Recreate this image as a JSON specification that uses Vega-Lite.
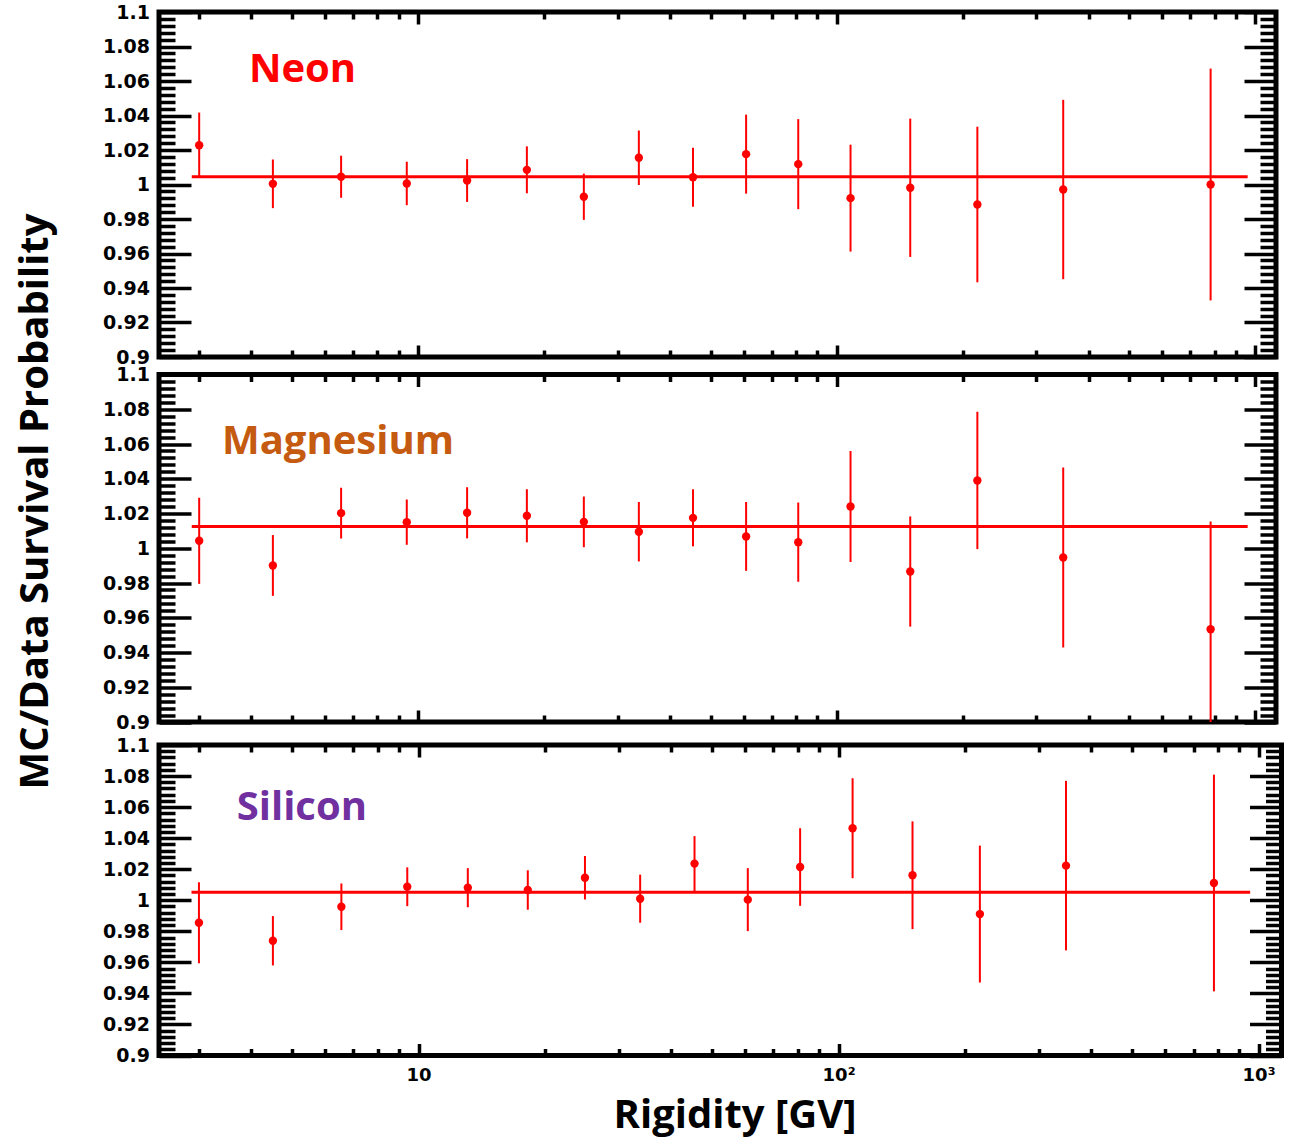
{
  "$schema": "https://vega.github.io/schema/vega-lite/v6.json",
  "background": "white",
  "padding": {"left": 12, "top": 0, "right": 10, "bottom": 0},
  "datasets": {
    "pts": [
      {"el": "Neon", "x": 3.0, "y": 1.0228, "lo": 1.0039, "hi": 1.0417},
      {"el": "Neon", "x": 4.5, "y": 1.0004, "lo": 0.9863, "hi": 1.0145},
      {"el": "Neon", "x": 6.55, "y": 1.0045, "lo": 0.9923, "hi": 1.0167},
      {"el": "Neon", "x": 9.4, "y": 1.0006, "lo": 0.988, "hi": 1.0132},
      {"el": "Neon", "x": 13.1, "y": 1.0023, "lo": 0.9899, "hi": 1.0147},
      {"el": "Neon", "x": 18.2, "y": 1.0085, "lo": 0.9949, "hi": 1.0221},
      {"el": "Neon", "x": 24.9, "y": 0.9929, "lo": 0.9795, "hi": 1.0063},
      {"el": "Neon", "x": 33.7, "y": 1.0155, "lo": 0.9997, "hi": 1.0313},
      {"el": "Neon", "x": 45.4, "y": 1.0042, "lo": 0.9871, "hi": 1.0213},
      {"el": "Neon", "x": 60.8, "y": 1.0176, "lo": 0.9947, "hi": 1.0405},
      {"el": "Neon", "x": 81, "y": 1.0118, "lo": 0.9857, "hi": 1.0379},
      {"el": "Neon", "x": 108, "y": 0.9921, "lo": 0.9611, "hi": 1.0231},
      {"el": "Neon", "x": 150, "y": 0.9981, "lo": 0.958, "hi": 1.0382},
      {"el": "Neon", "x": 217, "y": 0.9884, "lo": 0.9433, "hi": 1.0335},
      {"el": "Neon", "x": 348, "y": 0.9971, "lo": 0.9451, "hi": 1.0491},
      {"el": "Neon", "x": 783, "y": 1.0, "lo": 0.9328, "hi": 1.0672},
      {"el": "Magnesium", "x": 3.0, "y": 1.0043, "lo": 0.9795, "hi": 1.0291},
      {"el": "Magnesium", "x": 4.5, "y": 0.9901, "lo": 0.9726, "hi": 1.0076},
      {"el": "Magnesium", "x": 6.55, "y": 1.0202, "lo": 1.0056, "hi": 1.0348},
      {"el": "Magnesium", "x": 9.4, "y": 1.015, "lo": 1.002, "hi": 1.028},
      {"el": "Magnesium", "x": 13.1, "y": 1.0204, "lo": 1.0057, "hi": 1.0351},
      {"el": "Magnesium", "x": 18.2, "y": 1.0187, "lo": 1.0034, "hi": 1.034},
      {"el": "Magnesium", "x": 24.9, "y": 1.0152, "lo": 1.0006, "hi": 1.0298},
      {"el": "Magnesium", "x": 33.7, "y": 1.0095, "lo": 0.9924, "hi": 1.0266},
      {"el": "Magnesium", "x": 45.4, "y": 1.0175, "lo": 1.0011, "hi": 1.0339},
      {"el": "Magnesium", "x": 60.8, "y": 1.0068, "lo": 0.987, "hi": 1.0266},
      {"el": "Magnesium", "x": 81, "y": 1.0035, "lo": 0.9807, "hi": 1.0263},
      {"el": "Magnesium", "x": 108, "y": 1.024, "lo": 0.9921, "hi": 1.0559},
      {"el": "Magnesium", "x": 150, "y": 0.9866, "lo": 0.9549, "hi": 1.0183},
      {"el": "Magnesium", "x": 217, "y": 1.039, "lo": 0.9995, "hi": 1.0785},
      {"el": "Magnesium", "x": 348, "y": 0.9947, "lo": 0.9429, "hi": 1.0465},
      {"el": "Magnesium", "x": 783, "y": 0.9534, "lo": 0.8914, "hi": 1.0154},
      {"el": "Silicon", "x": 3.0, "y": 0.9855, "lo": 0.9594, "hi": 1.0116},
      {"el": "Silicon", "x": 4.5, "y": 0.9739, "lo": 0.958, "hi": 0.9898},
      {"el": "Silicon", "x": 6.55, "y": 0.9958, "lo": 0.9808, "hi": 1.0108},
      {"el": "Silicon", "x": 9.4, "y": 1.0087, "lo": 0.9962, "hi": 1.0212},
      {"el": "Silicon", "x": 13.1, "y": 1.0081, "lo": 0.9955, "hi": 1.0207},
      {"el": "Silicon", "x": 18.2, "y": 1.0066, "lo": 0.9939, "hi": 1.0193},
      {"el": "Silicon", "x": 24.9, "y": 1.0145, "lo": 1.0005, "hi": 1.0285},
      {"el": "Silicon", "x": 33.7, "y": 1.001, "lo": 0.9855, "hi": 1.0165},
      {"el": "Silicon", "x": 45.4, "y": 1.0236, "lo": 1.0059, "hi": 1.0413},
      {"el": "Silicon", "x": 60.8, "y": 1.0004, "lo": 0.9801, "hi": 1.0207},
      {"el": "Silicon", "x": 81, "y": 1.0214, "lo": 0.9964, "hi": 1.0464},
      {"el": "Silicon", "x": 108, "y": 1.0464, "lo": 1.0142, "hi": 1.0786},
      {"el": "Silicon", "x": 150, "y": 1.0161, "lo": 0.9814, "hi": 1.0508},
      {"el": "Silicon", "x": 217, "y": 0.9911, "lo": 0.947, "hi": 1.0352},
      {"el": "Silicon", "x": 348, "y": 1.0223, "lo": 0.9677, "hi": 1.0769},
      {"el": "Silicon", "x": 783, "y": 1.0111, "lo": 0.9413, "hi": 1.0809}
    ],
    "fit": [
      {"el": "Neon", "x": 2.88, "y": 1.0045},
      {"el": "Neon", "x": 960, "y": 1.0045},
      {"el": "Magnesium", "x": 2.88, "y": 1.0125},
      {"el": "Magnesium", "x": 960, "y": 1.0125},
      {"el": "Silicon", "x": 2.88, "y": 1.0051},
      {"el": "Silicon", "x": 955, "y": 1.0051}
    ],
    "names": [
      {"el": "Neon", "x": 3.945, "y": 1.0597, "name": "Neon"},
      {"el": "Magnesium", "x": 3.4, "y": 1.0545, "name": "Magnesium"},
      {"el": "Silicon", "x": 3.69, "y": 1.0517, "name": "Silicon"}
    ]
  },
  "config": {
    "view": {"stroke": "black", "strokeWidth": 5},
    "axis": {
      "domain": false,
      "grid": false,
      "tickColor": "black",
      "tickWidth": 3.5,
      "labelColor": "black",
      "labelFont": "DejaVu Sans",
      "labelFontWeight": "bold",
      "labelOverlap": false,
      "labelBound": false,
      "labelFlush": false,
      "titleColor": "black",
      "titleFont": "Open Sans",
      "titleFontWeight": "bold",
      "titleFontSize": 40
    }
  },
  "spacing": 17.5,
  "bounds": "flush",
  "resolve": {"scale": {"x": "independent", "y": "independent"}},
  "vconcat": [
    {
      "width": 1117,
      "height": 345,
      "resolve": {"axis": {"x": "independent", "y": "independent"}},
      "layer": [
        {
          "data": {"name": "fit"},
          "transform": [{"filter": "datum.el == 'Neon'"}],
          "mark": {"type": "line", "color": "#ff0000", "strokeWidth": 3, "clip": true},
          "encoding": {
            "x": {"field": "x", "type": "quantitative", "scale": {"type": "log", "domain": [2.405, 1122], "nice": false},
              "axis": {"orient": "top", "values": [3,4,5,6,7,8,9,10,20,30,40,50,60,70,80,90,100,200,300,400,500,600,700,800,900,1000], "tickSize": {"condition": {"test": "datum.value == 10 || datum.value == 100 || datum.value == 1000", "value": -12}, "value": -7}, "labels": false, "title": null}},
            "y": {"field": "y", "type": "quantitative", "scale": {"domain": [0.9, 1.1], "nice": false, "zero": false},
              "axis": {"orient": "right", "values": [0.9,0.904,0.908,0.912,0.916,0.92,0.924,0.928,0.932,0.936,0.94,0.944,0.948,0.952,0.956,0.96,0.964,0.968,0.972,0.976,0.98,0.984,0.988,0.992,0.996,1,1.004,1.008,1.012,1.016,1.02,1.024,1.028,1.032,1.036,1.04,1.044,1.048,1.052,1.056,1.06,1.064,1.068,1.072,1.076,1.08,1.084,1.088,1.092,1.096,1.1], "tickSize": {"condition": {"test": "abs(datum.value*50 - round(datum.value*50)) < 0.001", "value": -32}, "value": -16}, "labels": false, "title": null}}
          }
        },
        {
          "data": {"name": "pts"},
          "transform": [{"filter": "datum.el == 'Neon'"}],
          "mark": {"type": "rule", "color": "#ff0000", "strokeWidth": 2, "clip": true},
          "encoding": {
            "x": {"field": "x", "type": "quantitative", "scale": {"type": "log", "domain": [2.405, 1122], "nice": false},
              "axis": {"orient": "bottom", "values": [3,4,5,6,7,8,9,10,20,30,40,50,60,70,80,90,100,200,300,400,500,600,700,800,900,1000], "tickSize": {"condition": {"test": "datum.value == 10 || datum.value == 100 || datum.value == 1000", "value": -12}, "value": -7}, "labels": false, "title": null}},
            "y": {"field": "lo", "type": "quantitative", "scale": {"domain": [0.9, 1.1], "nice": false, "zero": false},
              "axis": {"orient": "left", "values": [0.9,0.904,0.908,0.912,0.916,0.92,0.924,0.928,0.932,0.936,0.94,0.944,0.948,0.952,0.956,0.96,0.964,0.968,0.972,0.976,0.98,0.984,0.988,0.992,0.996,1,1.004,1.008,1.012,1.016,1.02,1.024,1.028,1.032,1.036,1.04,1.044,1.048,1.052,1.056,1.06,1.064,1.068,1.072,1.076,1.08,1.084,1.088,1.092,1.096,1.1], "tickSize": {"condition": {"test": "abs(datum.value*50 - round(datum.value*50)) < 0.001", "value": -32}, "value": -16}, "labelExpr": "abs(datum.value*50 - round(datum.value*50)) < 0.001 ? format(round(datum.value*50)/50, '~g') : ''", "labelPadding": 41.5, "labelFontSize": 19, "title": null}},
            "y2": {"field": "hi"}
          }
        },
        {
          "data": {"name": "pts"},
          "transform": [{"filter": "datum.el == 'Neon'"}],
          "mark": {"type": "circle", "color": "#ff0000", "opacity": 1, "size": 70},
          "encoding": {
            "x": {"field": "x", "type": "quantitative", "scale": {"type": "log", "domain": [2.405, 1122], "nice": false}, "axis": null},
            "y": {"field": "y", "type": "quantitative", "scale": {"domain": [0.9, 1.1], "nice": false, "zero": false}, "axis": null}
          }
        },
        {
          "data": {"name": "names"},
          "transform": [{"filter": "datum.el == 'Neon'"}],
          "mark": {"type": "text", "color": "#ff0000", "font": "Open Sans", "fontWeight": "bold", "fontSize": 40, "align": "left", "baseline": "alphabetic"},
          "encoding": {
            "x": {"field": "x", "type": "quantitative", "scale": {"type": "log", "domain": [2.405, 1122], "nice": false}, "axis": null},
            "y": {"field": "y", "type": "quantitative", "scale": {"domain": [0.9, 1.1], "nice": false, "zero": false}, "axis": null},
            "text": {"field": "name"}
          }
        }
      ]
    },
    {
      "spacing": 22.5,
      "bounds": "flush",
      "resolve": {"scale": {"x": "independent", "y": "independent"}},
      "vconcat": [
        {
          "width": 1117,
          "height": 347.5,
          "resolve": {"axis": {"x": "independent", "y": "independent"}},
          "layer": [
            {
              "data": {"name": "fit"},
              "transform": [{"filter": "datum.el == 'Magnesium'"}],
              "mark": {"type": "line", "color": "#ff0000", "strokeWidth": 3, "clip": true},
              "encoding": {
                "x": {"field": "x", "type": "quantitative", "scale": {"type": "log", "domain": [2.405, 1122], "nice": false},
                  "axis": {"orient": "top", "values": [3,4,5,6,7,8,9,10,20,30,40,50,60,70,80,90,100,200,300,400,500,600,700,800,900,1000], "tickSize": {"condition": {"test": "datum.value == 10 || datum.value == 100 || datum.value == 1000", "value": -12}, "value": -7}, "labels": false, "title": null}},
                "y": {"field": "y", "type": "quantitative", "scale": {"domain": [0.9, 1.1], "nice": false, "zero": false},
                  "axis": {"orient": "right", "values": [0.9,0.904,0.908,0.912,0.916,0.92,0.924,0.928,0.932,0.936,0.94,0.944,0.948,0.952,0.956,0.96,0.964,0.968,0.972,0.976,0.98,0.984,0.988,0.992,0.996,1,1.004,1.008,1.012,1.016,1.02,1.024,1.028,1.032,1.036,1.04,1.044,1.048,1.052,1.056,1.06,1.064,1.068,1.072,1.076,1.08,1.084,1.088,1.092,1.096,1.1], "tickSize": {"condition": {"test": "abs(datum.value*50 - round(datum.value*50)) < 0.001", "value": -32}, "value": -16}, "labels": false, "title": null}}
              }
            },
            {
              "data": {"name": "pts"},
              "transform": [{"filter": "datum.el == 'Magnesium'"}],
              "mark": {"type": "rule", "color": "#ff0000", "strokeWidth": 2, "clip": true},
              "encoding": {
                "x": {"field": "x", "type": "quantitative", "scale": {"type": "log", "domain": [2.405, 1122], "nice": false},
                  "axis": {"orient": "bottom", "values": [3,4,5,6,7,8,9,10,20,30,40,50,60,70,80,90,100,200,300,400,500,600,700,800,900,1000], "tickSize": {"condition": {"test": "datum.value == 10 || datum.value == 100 || datum.value == 1000", "value": -12}, "value": -7}, "labels": false, "title": null}},
                "y": {"field": "lo", "type": "quantitative", "scale": {"domain": [0.9, 1.1], "nice": false, "zero": false},
                  "axis": {"orient": "left", "values": [0.9,0.904,0.908,0.912,0.916,0.92,0.924,0.928,0.932,0.936,0.94,0.944,0.948,0.952,0.956,0.96,0.964,0.968,0.972,0.976,0.98,0.984,0.988,0.992,0.996,1,1.004,1.008,1.012,1.016,1.02,1.024,1.028,1.032,1.036,1.04,1.044,1.048,1.052,1.056,1.06,1.064,1.068,1.072,1.076,1.08,1.084,1.088,1.092,1.096,1.1], "tickSize": {"condition": {"test": "abs(datum.value*50 - round(datum.value*50)) < 0.001", "value": -32}, "value": -16}, "labelExpr": "abs(datum.value*50 - round(datum.value*50)) < 0.001 ? format(round(datum.value*50)/50, '~g') : ''", "labelPadding": 41.5, "labelFontSize": 19,
                    "title": "MC/Data Survival Probability", "titleAngle": 270, "titleAlign": "center", "titleBaseline": "alphabetic", "titleX": -112, "titleY": 126.5}},
                "y2": {"field": "hi"}
              }
            },
            {
              "data": {"name": "pts"},
              "transform": [{"filter": "datum.el == 'Magnesium'"}],
              "mark": {"type": "circle", "color": "#ff0000", "opacity": 1, "size": 70},
              "encoding": {
                "x": {"field": "x", "type": "quantitative", "scale": {"type": "log", "domain": [2.405, 1122], "nice": false}, "axis": null},
                "y": {"field": "y", "type": "quantitative", "scale": {"domain": [0.9, 1.1], "nice": false, "zero": false}, "axis": null}
              }
            },
            {
              "data": {"name": "names"},
              "transform": [{"filter": "datum.el == 'Magnesium'"}],
              "mark": {"type": "text", "color": "#c55a11", "font": "Open Sans", "fontWeight": "bold", "fontSize": 40, "align": "left", "baseline": "alphabetic"},
              "encoding": {
                "x": {"field": "x", "type": "quantitative", "scale": {"type": "log", "domain": [2.405, 1122], "nice": false}, "axis": null},
                "y": {"field": "y", "type": "quantitative", "scale": {"domain": [0.9, 1.1], "nice": false, "zero": false}, "axis": null},
                "text": {"field": "name"}
              }
            }
          ]
        },
        {
          "width": 1122.5,
          "height": 310.5,
          "resolve": {"axis": {"x": "independent", "y": "independent"}},
          "layer": [
            {
              "data": {"name": "fit"},
              "transform": [{"filter": "datum.el == 'Silicon'"}],
              "mark": {"type": "line", "color": "#ff0000", "strokeWidth": 3, "clip": true},
              "encoding": {
                "x": {"field": "x", "type": "quantitative", "scale": {"type": "log", "domain": [2.41, 1134], "nice": false},
                  "axis": {"orient": "top", "values": [3,4,5,6,7,8,9,10,20,30,40,50,60,70,80,90,100,200,300,400,500,600,700,800,900,1000], "tickSize": {"condition": {"test": "datum.value == 10 || datum.value == 100 || datum.value == 1000", "value": -12}, "value": -7}, "labels": false, "title": null}},
                "y": {"field": "y", "type": "quantitative", "scale": {"domain": [0.9, 1.1], "nice": false, "zero": false},
                  "axis": {"orient": "right", "values": [0.9,0.904,0.908,0.912,0.916,0.92,0.924,0.928,0.932,0.936,0.94,0.944,0.948,0.952,0.956,0.96,0.964,0.968,0.972,0.976,0.98,0.984,0.988,0.992,0.996,1,1.004,1.008,1.012,1.016,1.02,1.024,1.028,1.032,1.036,1.04,1.044,1.048,1.052,1.056,1.06,1.064,1.068,1.072,1.076,1.08,1.084,1.088,1.092,1.096,1.1], "tickSize": {"condition": {"test": "abs(datum.value*50 - round(datum.value*50)) < 0.001", "value": -32}, "value": -16}, "labels": false, "title": null}}
              }
            },
            {
              "data": {"name": "pts"},
              "transform": [{"filter": "datum.el == 'Silicon'"}],
              "mark": {"type": "rule", "color": "#ff0000", "strokeWidth": 2, "clip": true},
              "encoding": {
                "x": {"field": "x", "type": "quantitative", "scale": {"type": "log", "domain": [2.41, 1134], "nice": false},
                  "axis": {"orient": "bottom", "values": [3,4,5,6,7,8,9,10,20,30,40,50,60,70,80,90,100,200,300,400,500,600,700,800,900,1000], "tickSize": {"condition": {"test": "datum.value == 10 || datum.value == 100 || datum.value == 1000", "value": -12}, "value": -7},
                    "labelExpr": "datum.value == 10 ? '10' : datum.value == 100 ? '10²' : datum.value == 1000 ? '10³' : ''", "labelPadding": 23, "labelFontSize": 18, "labelBaseline": "top",
                    "title": "Rigidity [GV]", "titleAlign": "center", "titleBaseline": "alphabetic", "titleAngle": 0, "titleX": 575.5, "titleY": 71.5}},
                "y": {"field": "lo", "type": "quantitative", "scale": {"domain": [0.9, 1.1], "nice": false, "zero": false},
                  "axis": {"orient": "left", "values": [0.9,0.904,0.908,0.912,0.916,0.92,0.924,0.928,0.932,0.936,0.94,0.944,0.948,0.952,0.956,0.96,0.964,0.968,0.972,0.976,0.98,0.984,0.988,0.992,0.996,1,1.004,1.008,1.012,1.016,1.02,1.024,1.028,1.032,1.036,1.04,1.044,1.048,1.052,1.056,1.06,1.064,1.068,1.072,1.076,1.08,1.084,1.088,1.092,1.096,1.1], "tickSize": {"condition": {"test": "abs(datum.value*50 - round(datum.value*50)) < 0.001", "value": -32}, "value": -16}, "labelExpr": "abs(datum.value*50 - round(datum.value*50)) < 0.001 ? format(round(datum.value*50)/50, '~g') : ''", "labelPadding": 41.5, "labelFontSize": 19, "title": null}},
                "y2": {"field": "hi"}
              }
            },
            {
              "data": {"name": "pts"},
              "transform": [{"filter": "datum.el == 'Silicon'"}],
              "mark": {"type": "circle", "color": "#ff0000", "opacity": 1, "size": 70},
              "encoding": {
                "x": {"field": "x", "type": "quantitative", "scale": {"type": "log", "domain": [2.41, 1134], "nice": false}, "axis": null},
                "y": {"field": "y", "type": "quantitative", "scale": {"domain": [0.9, 1.1], "nice": false, "zero": false}, "axis": null}
              }
            },
            {
              "data": {"name": "names"},
              "transform": [{"filter": "datum.el == 'Silicon'"}],
              "mark": {"type": "text", "color": "#7030a0", "font": "Open Sans", "fontWeight": "bold", "fontSize": 40, "align": "left", "baseline": "alphabetic"},
              "encoding": {
                "x": {"field": "x", "type": "quantitative", "scale": {"type": "log", "domain": [2.41, 1134], "nice": false}, "axis": null},
                "y": {"field": "y", "type": "quantitative", "scale": {"domain": [0.9, 1.1], "nice": false, "zero": false}, "axis": null},
                "text": {"field": "name"}
              }
            }
          ]
        }
      ]
    }
  ]
}
